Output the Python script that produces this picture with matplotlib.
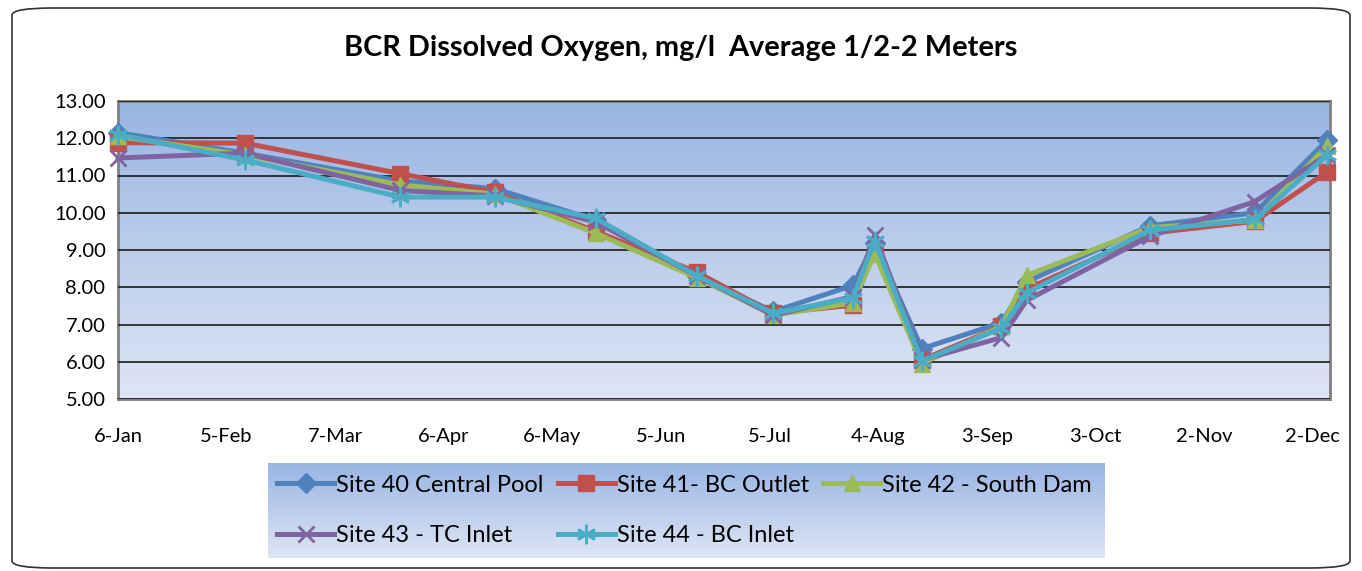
#!/usr/bin/env python3

import datetime as dt
import numpy as np
import matplotlib
matplotlib.use("Agg")
import matplotlib.pyplot as plt
from matplotlib.patches import FancyBboxPatch

# sample dates and dissolved oxygen (mg/l) per site
dates = [ "2011-01-06", "2011-02-10", "2011-03-25", "2011-04-20", "2011-05-18",
          "2011-06-15", "2011-07-06", "2011-07-28", "2011-08-03", "2011-08-16",
          "2011-09-07", "2011-09-14", "2011-10-18", "2011-11-16", "2011-12-06" ]

site40 = [ 12.15, 11.60, 10.85, 10.65, 9.80, 8.30, 7.35, 8.05, 9.20, 6.35, 7.05, 8.15, 9.65, 10.00, 11.95 ]
site41 = [ 11.88, 11.87, 11.05, 10.55, 9.50, 8.40, 7.30, 7.52, 9.00, 6.05, 6.95, 7.95, 9.45, 9.77, 11.10 ]
site42 = [ 12.05, 11.55, 10.75, 10.50, 9.45, 8.25, 7.25, 7.58, 8.90, 5.95, 6.95, 8.32, 9.60, 9.80, 11.80 ]
site43 = [ 11.47, 11.60, 10.60, 10.45, 9.75, 8.30, 7.25, 7.75, 9.40, 6.05, 6.65, 7.65, 9.37, 10.30, 11.55 ]
site44 = [ 12.10, 11.42, 10.42, 10.42, 9.85, 8.30, 7.30, 7.72, 9.25, 6.02, 6.90, 7.85, 9.53, 9.82, 11.55 ]

names = [ "Site 40 Central Pool", "Site 41- BC Outlet", "Site 42 - South Dam",
          "Site 43 - TC Inlet", "Site 44 - BC Inlet" ]

title = "BCR Dissolved Oxygen, mg/l  Average 1/2-2 Meters"

plt.rcParams['font.family'] = [ 'Lato', 'DejaVu Sans' ]

X = [ dt.datetime.strptime( d, "%Y-%m-%d" ) for d in dates ]
all_series = [ site40, site41, site42, site43, site44 ]
colors = [ "#4F81BD", "#C0504D", "#9BBB59", "#8064A2", "#4BACC6" ]
markers = [ "D", "s", "^", "x", (6, 2, 0) ]
msizes = [ 10, 12, 11, 12, 14 ]
medges = [ 1, 1, 1, 2, 2 ]

fig = plt.figure( figsize=(13.62, 5.71), dpi=100 )

# rounded outer frame
frame = FancyBboxPatch( (12/1362, 3/571), 1338/1362, 560/571,
                        boxstyle="round,pad=0,rounding_size=0.03",
                        transform=fig.transFigure, facecolor="white",
                        edgecolor="#333333", linewidth=1.2, mutation_aspect=571/1362,
                        zorder=-5 )
fig.patches.append( frame )

ax = fig.add_axes( [118/1362, 1 - 399/571, 1212/1362, 298/571] )

grad = np.linspace( 0, 1, 256 ).reshape( -1, 1 )
top = np.array( [0.60, 0.71, 0.89] )
bot = np.array( [0.87, 0.90, 0.96] )
img = top + (bot - top) * grad[:, :, None]
ax.imshow( img, extent=[0, 1, 0, 1], transform=ax.transAxes, aspect="auto", zorder=0 )

for i in range( len(all_series) ):
    ax.plot( X, all_series[i], color=colors[i], linewidth=3.6, marker=markers[i],
             markersize=msizes[i], markeredgewidth=medges[i],
             markeredgecolor=colors[i], label=names[i], zorder=3 + i, clip_on=False )

ax.set_ylim( 5, 13 )
ax.set_yticks( np.arange( 5, 13.5, 1 ) )
ax.yaxis.set_major_formatter( plt.FuncFormatter( lambda v, p: "%.2f" % v ) )
ax.set_xlim( dt.datetime(2011, 1, 6), dt.datetime(2011, 12, 6, 18) )
ticks = [ dt.datetime(2011, 1, 6) + dt.timedelta( days=30*k ) for k in range(12) ]
ax.set_xticks( ticks )
ax.set_xticklabels( [ "%d-%s" % ( t.day, t.strftime("%b") ) for t in ticks ] )
ax.grid( axis="y", color="#1a1a1a", linewidth=1.2, zorder=1 )
ax.set_axisbelow( False )
for s in ax.spines.values():
    s.set_color( "#808080" )
    s.set_linewidth( 2 )
ax.tick_params( axis="both", length=0, labelsize=14.5, pad=9 )
ax.tick_params( axis="x", pad=21 )

fig.text( 0.5, 1 - 48/571, title, ha="center", va="center", fontsize=20.8, fontweight="bold" )

# legend box with gradient, filled row by row like the original
lax = fig.add_axes( [268/1362, 1 - 558/571, 837/1362, 95/571] )
lax.imshow( img, extent=[0, 1, 0, 1], transform=lax.transAxes, aspect="auto" )
lax.set_axis_off()
handles, labels = ax.get_legend_handles_labels()
order = [ 0, 3, 1, 4, 2 ]
leg = lax.legend( [ handles[k] for k in order ], [ labels[k] for k in order ],
                  loc="center left", bbox_to_anchor=(0.0, 0.5), ncol=3,
                  frameon=False, fontsize=17, handlelength=2.4, handletextpad=0.1,
                  columnspacing=0.6, labelspacing=1.25, borderaxespad=0.0 )

plt.savefig( "out.png", dpi=100 )
